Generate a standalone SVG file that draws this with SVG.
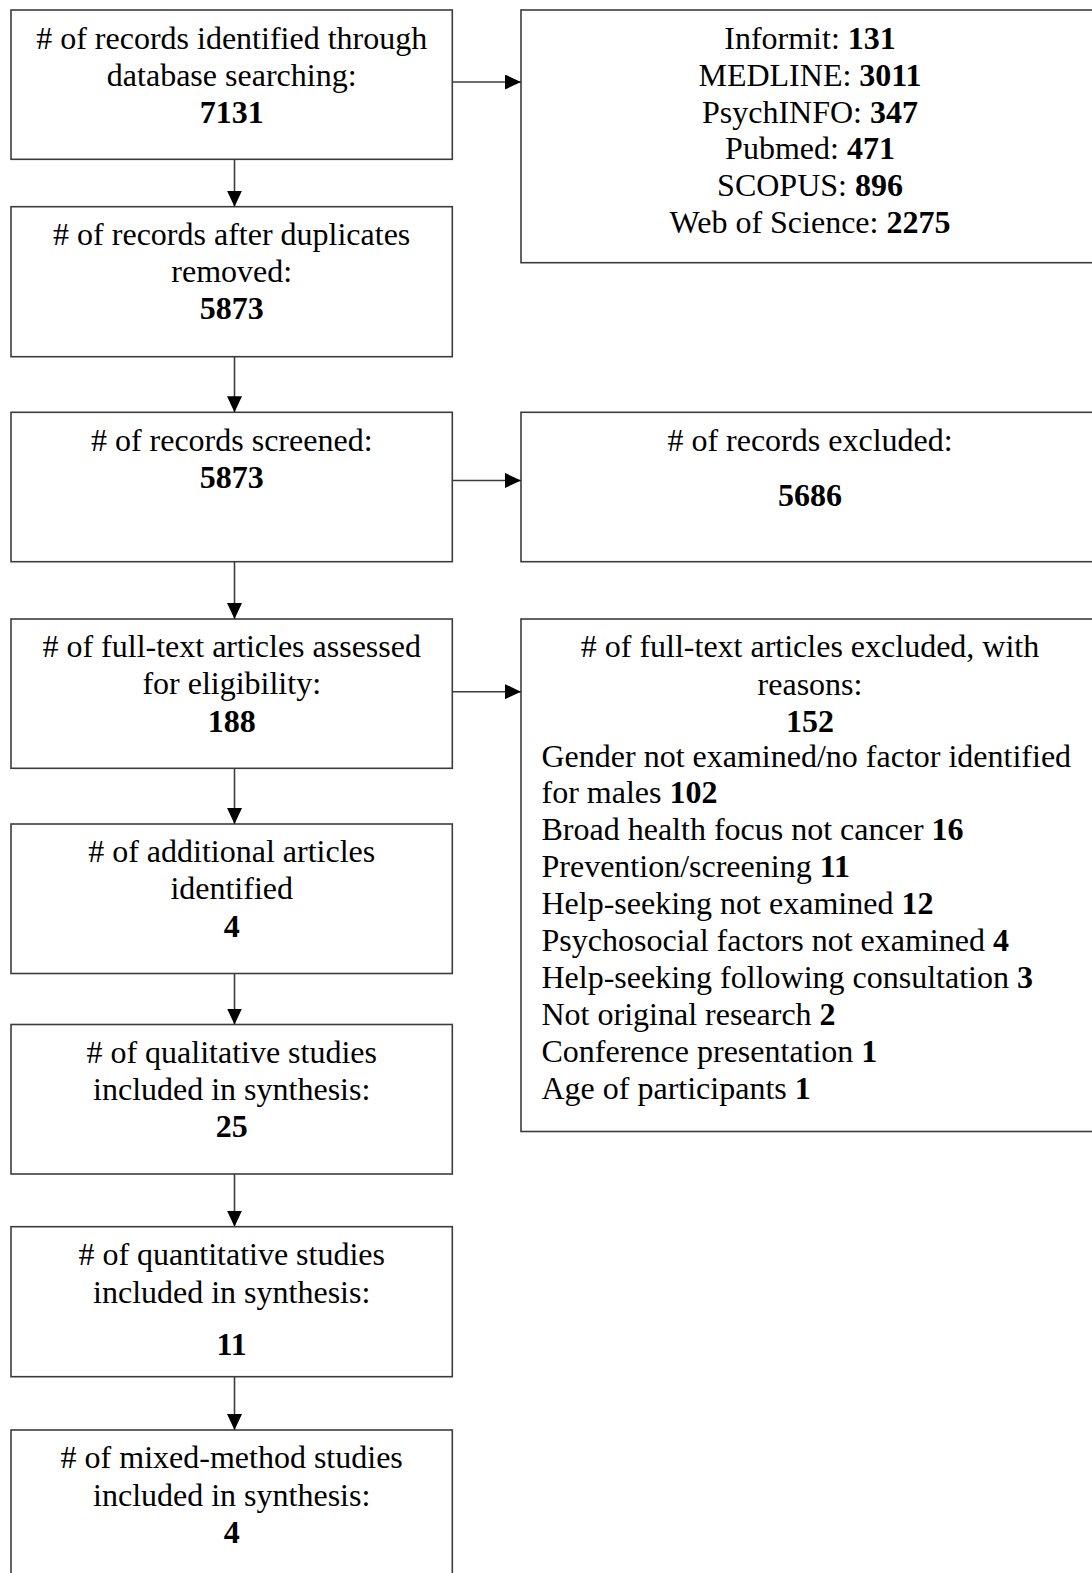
<svg xmlns="http://www.w3.org/2000/svg" width="1092" height="1573" viewBox="0 0 1092 1573">
  <style>
    .box { fill: #ffffff; stroke: #3c3c3c; stroke-width: 1.6; }
    .link { fill: none; stroke: #3c3c3c; stroke-width: 1.6; }
    text { font-family: "Liberation Serif", "Times New Roman", serif; font-size: 32px; fill: #000; }
    .c { text-anchor: middle; }
    .b { font-weight: bold; }
  </style>
  <defs>
    <marker id="arrow" viewBox="0 0 16 15" refX="16" refY="7.5" markerWidth="16" markerHeight="15" markerUnits="userSpaceOnUse" orient="auto">
      <path d="M0,0 L16,7.5 L0,15 Z" fill="#000"/>
    </marker>
  </defs>
  <rect width="1092" height="1573" fill="#ffffff"/>

  <!-- left column: main flow -->
  <g id="identified">
    <rect class="box" x="11" y="10" width="441.3" height="149.3"/>
    <text class="c" x="231.7" y="49.3"># of records identified through</text>
    <text class="c" x="231.7" y="86">database searching:</text>
    <text class="c b" x="231.7" y="123.3">7131</text>
  </g>
  <g id="deduplicated">
    <rect class="box" x="11" y="206.7" width="441.3" height="150"/>
    <text class="c" x="231.7" y="245"># of records after duplicates</text>
    <text class="c" x="231.7" y="282.3">removed:</text>
    <text class="c b" x="231.7" y="319.3">5873</text>
  </g>
  <g id="screened">
    <rect class="box" x="11" y="412.3" width="441.3" height="149.4"/>
    <text class="c" x="231.7" y="450.7"># of records screened:</text>
    <text class="c b" x="231.7" y="488.3">5873</text>
  </g>
  <g id="eligibility">
    <rect class="box" x="11" y="619" width="441.3" height="149.3"/>
    <text class="c" x="231.7" y="657.3"># of full-text articles assessed</text>
    <text class="c" x="231.7" y="694.3">for eligibility:</text>
    <text class="c b" x="231.7" y="731.5">188</text>
  </g>
  <g id="additional">
    <rect class="box" x="11" y="824" width="441.3" height="149.5"/>
    <text class="c" x="231.7" y="862.3"># of additional articles</text>
    <text class="c" x="231.7" y="899.3">identified</text>
    <text class="c b" x="231.7" y="936.5">4</text>
  </g>
  <g id="qualitative">
    <rect class="box" x="11" y="1024.5" width="441.3" height="149.5"/>
    <text class="c" x="231.7" y="1062.8"># of qualitative studies</text>
    <text class="c" x="231.7" y="1099.8">included in synthesis:</text>
    <text class="c b" x="231.7" y="1136.8">25</text>
  </g>
  <g id="quantitative">
    <rect class="box" x="11" y="1226.7" width="441.3" height="150"/>
    <text class="c" x="231.7" y="1265"># of quantitative studies</text>
    <text class="c" x="231.7" y="1302.7">included in synthesis:</text>
    <text class="c b" x="231.7" y="1355">11</text>
  </g>
  <g id="mixed">
    <rect class="box" x="11" y="1430" width="441.3" height="160"/>
    <text class="c" x="231.7" y="1468.3"># of mixed-method studies</text>
    <text class="c" x="231.7" y="1506">included in synthesis:</text>
    <text class="c b" x="231.7" y="1543.3">4</text>
  </g>

  <!-- right column: breakdowns and exclusions -->
  <g id="databases">
    <rect class="box" x="521" y="10" width="590" height="252.7"/>
    <text class="c" x="810" y="49.3">Informit: <tspan class="b">131</tspan></text>
    <text class="c" x="810" y="86">MEDLINE: <tspan class="b">3011</tspan></text>
    <text class="c" x="810" y="122.7">PsychINFO: <tspan class="b">347</tspan></text>
    <text class="c" x="810" y="159.3">Pubmed: <tspan class="b">471</tspan></text>
    <text class="c" x="810" y="196">SCOPUS: <tspan class="b">896</tspan></text>
    <text class="c" x="810" y="232.7">Web of Science: <tspan class="b">2275</tspan></text>
  </g>
  <g id="records-excluded">
    <rect class="box" x="521" y="412.3" width="590" height="149.4"/>
    <text class="c" x="810" y="450.7"># of records excluded:</text>
    <text class="c b" x="810" y="506">5686</text>
  </g>
  <g id="fulltext-excluded">
    <rect class="box" x="521" y="619" width="590" height="512.5"/>
    <text class="c" x="810" y="657.3"># of full-text articles excluded, with</text>
    <text class="c" x="810" y="694.5">reasons:</text>
    <text class="c b" x="810" y="731.5">152</text>
    <text x="541.5" y="766.7">Gender not examined/no factor identified</text>
    <text x="541.5" y="803.3">for males <tspan class="b">102</tspan></text>
    <text x="541.5" y="840.3">Broad health focus not cancer <tspan class="b">16</tspan></text>
    <text x="541.5" y="877.2">Prevention/screening <tspan class="b">11</tspan></text>
    <text x="541.5" y="914">Help-seeking not examined <tspan class="b">12</tspan></text>
    <text x="541.5" y="951">Psychosocial factors not examined <tspan class="b">4</tspan></text>
    <text x="541.5" y="988">Help-seeking following consultation <tspan class="b">3</tspan></text>
    <text x="541.5" y="1025">Not original research <tspan class="b">2</tspan></text>
    <text x="541.5" y="1062">Conference presentation <tspan class="b">1</tspan></text>
    <text x="541.5" y="1099">Age of participants <tspan class="b">1</tspan></text>
  </g>

  <!-- connectors -->
  <g id="connectors">
    <path class="link" d="M234.5,159.3 V206.7" marker-end="url(#arrow)"/>
    <path class="link" d="M234.5,356.7 V412.3" marker-end="url(#arrow)"/>
    <path class="link" d="M234.5,561.7 V619" marker-end="url(#arrow)"/>
    <path class="link" d="M234.5,768.3 V824" marker-end="url(#arrow)"/>
    <path class="link" d="M234.5,973.5 V1024.5" marker-end="url(#arrow)"/>
    <path class="link" d="M234.5,1174 V1226.7" marker-end="url(#arrow)"/>
    <path class="link" d="M234.5,1376.7 V1430" marker-end="url(#arrow)"/>
    <path class="link" d="M452.3,82 H521" marker-end="url(#arrow)"/>
    <path class="link" d="M452.3,480.5 H521" marker-end="url(#arrow)"/>
    <path class="link" d="M452.3,691.7 H521" marker-end="url(#arrow)"/>
  </g>
</svg>
